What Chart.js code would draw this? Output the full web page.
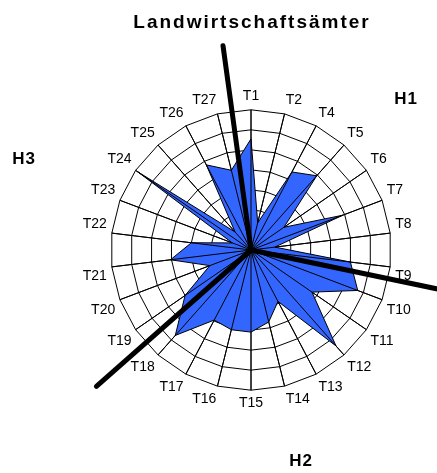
<!DOCTYPE html>
<html>
<head>
<meta charset="utf-8">
<script src="https://cdn.jsdelivr.net/npm/chart.js@4/dist/chart.umd.min.js"></script>
<style>
  body { margin: 0; background: #fff; }
</style>
</head>
<body>
<canvas id="radarChart" width="437" height="473"></canvas>
<script>
// Landwirtschaftsämter radar (T3 is not in the source)
const categories = ['T1', 'T2', 'T4', 'T5', 'T6', 'T7', 'T8', 'T9', 'T10', 'T11', 'T12', 'T13', 'T14',
    'T15', 'T16', 'T17', 'T18', 'T19', 'T20', 'T21', 'T22', 'T23', 'T24', 'T25', 'T26', 'T27'];
const values = [55.5, 14, 44, 49.5, 20, 49, 12, 50, 57, 37, 64, 29, 37,
    41, 41, 39.5, 57, 40, 22, 40.5, 30, 10, 69, 12, 48, 41];
const scaleMax = 70;
const scaleStep = 10;

// the three group dividers (degrees clockwise from top) and their names
const dividerAngles = [-7.8, 101.8, 228.6];
const groupNames = ['H1', 'H2', 'H3'];
const titleText = 'Landwirtschaftsämter';

const FONT = "'Liberation Sans', Arial, sans-serif";

// spokes over the fill, the thick divider lines and the texts
const overlayPlugin = {
    id: 'overlay',
    afterDatasetsDraw(chart) {
        const scale = chart.scales.r;
        const ctx = chart.ctx;
        const cx = scale.xCenter, cy = scale.yCenter, r = scale.drawingArea;

        ctx.save();
        ctx.strokeStyle = '#000';
        ctx.lineWidth = 1;
        for (let i = 0; i < categories.length; i++) {
            const p = scale.getPointPosition(i, r);
            ctx.beginPath();
            ctx.moveTo(cx, cy);
            ctx.lineTo(p.x, p.y);
            ctx.stroke();
        }

        ctx.lineWidth = 5;
        ctx.lineCap = 'round';
        dividerAngles.forEach(a => {
            const rad = a * Math.PI / 180;
            const len = r * 1.47;
            ctx.beginPath();
            ctx.moveTo(cx, cy);
            ctx.lineTo(cx + len * Math.sin(rad), cy - len * Math.cos(rad));
            ctx.stroke();
        });
        ctx.restore();
    },
    afterDraw(chart) {
        const scale = chart.scales.r;
        const ctx = chart.ctx;
        const cx = scale.xCenter, cy = scale.yCenter;
        ctx.save();
        ctx.fillStyle = '#000';
        ctx.textAlign = 'center';
        ctx.textBaseline = 'middle';
        ctx.font = 'bold 19px ' + FONT;
        ctx.letterSpacing = '2px';
        ctx.fillText(titleText, cx + 1, 23);

        ctx.font = 'bold 17px ' + FONT;
        ctx.letterSpacing = '1px';
        const offsets = [[155, -151], [50, 211], [-227, -91]];
        groupNames.forEach((name, i) => {
            ctx.fillText(name, cx + offsets[i][0], cy + offsets[i][1]);
        });
        ctx.restore();
    }
};

const ctx = document.getElementById('radarChart').getContext('2d');
ctx.letterSpacing = '1px';
const radarChart = new Chart(ctx, {
    type: 'radar',
    data: {
        labels: categories,
        datasets: [{
            label: titleText,
            data: values,
            fill: true,
            backgroundColor: '#3366FF',
            borderColor: '#000',
            borderWidth: 1,
            pointRadius: 0,
            tension: 0
        }]
    },
    options: {
        responsive: false,
        animation: false,
        layout: {
            padding: { top: 89, bottom: 60, left: 63, right: 0 }
        },
        plugins: {
            legend: { display: false },
            title: { display: false },
            tooltip: { enabled: false }
        },
        scales: {
            r: {
                min: 0,
                max: scaleMax,
                ticks: { display: false, stepSize: scaleStep },
                grid: { color: '#000', lineWidth: 1 },
                angleLines: { color: '#000', lineWidth: 1 },
                pointLabels: {
                    color: '#000',
                    padding: 5,
                    font: { family: FONT, size: 14 }
                }
            }
        }
    },
    plugins: [overlayPlugin]
});
</script>
</body>
</html>
